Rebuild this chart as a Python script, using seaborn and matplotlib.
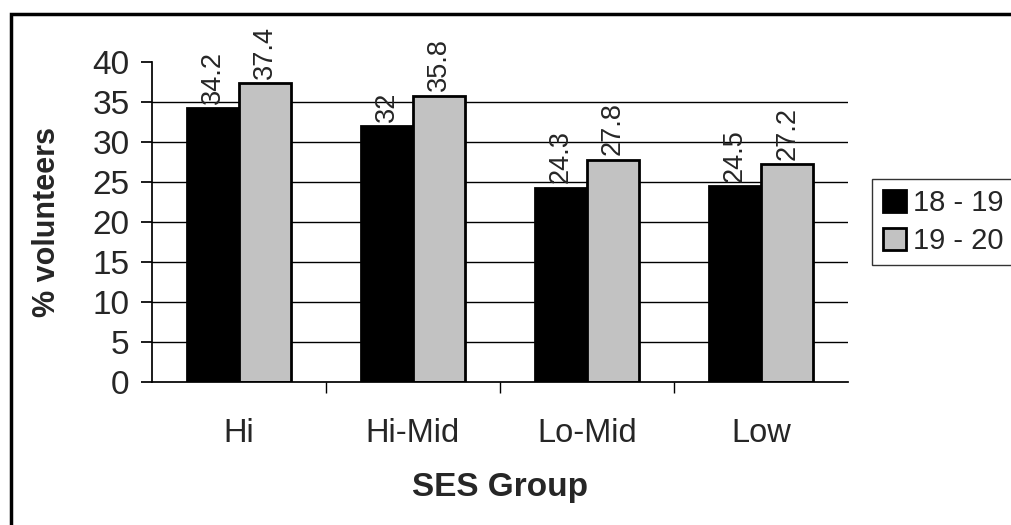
import numpy as np
import pandas as pd
import matplotlib
matplotlib.use("Agg")
import matplotlib.pyplot as plt
import seaborn as sns
from matplotlib.patches import Rectangle

groups = ["Hi", "Hi-Mid", "Lo-Mid", "Low"]
series = ["18 - 19", "19 - 20"]
vals_18_19 = [34.2, 32, 24.3, 24.5]
vals_19_20 = [37.4, 35.8, 27.8, 27.2]
labels_18_19 = ["34.2", "32", "24.3", "24.5"]
labels_19_20 = ["37.4", "35.8", "27.8", "27.2"]
yticks = [0, 5, 10, 15, 20, 25, 30, 35, 40]

df = pd.DataFrame({
    "SES Group": groups * 2,
    "series": [series[0]] * 4 + [series[1]] * 4,
    "pct": vals_18_19 + vals_19_20,
})

sns.set_theme(style="white")
plt.rcParams['font.family'] = ['Liberation Sans', 'DejaVu Sans']

fig = plt.figure(figsize=(10.12, 5.25), dpi=100)
ax = fig.add_axes([0.150, 0.272, 0.688, 0.610])

# gridlines (none at the top value, like the original)
for yv in yticks[1:-1]:
    ax.axhline(yv, color="black", linewidth=1, zorder=0)

sns.barplot(data=df, x="SES Group", y="pct", hue="series", hue_order=series,
            palette=["black", "#c2c2c2"], width=0.6, gap=0, saturation=1,
            edgecolor="black", linewidth=2, ax=ax, legend=True, zorder=2)

for cont, labs in zip(ax.containers, [labels_18_19, labels_19_20]):
    ax.bar_label(cont, labels=labs, rotation=90, padding=3, fontsize=19.5)

ax.set_ylim(0, 40)
ax.set_xlim(-0.5, 3.5)
ax.set_yticks(yticks)
for s in ["top", "right"]:
    ax.spines[s].set_visible(False)
ax.spines["left"].set_color("black")
ax.spines["bottom"].set_color("black")
ax.spines["left"].set_linestyle((0, (6, 1)))
ax.tick_params(axis="y", left=True, length=8, color="black", labelsize=24, pad=8)
ax.set_xticks([0, 1, 2, 3], minor=False)
ax.tick_params(axis="x", bottom=False, labelsize=23.5, pad=20)
ax.set_xticks([0.5, 1.5, 2.5], minor=True)
ax.tick_params(axis="x", which="minor", bottom=True, length=8, color="black")
ax.set_xlabel("SES Group", fontsize=24, fontweight="bold", labelpad=16)
ax.set_ylabel("% volunteers", fontsize=22, fontweight="bold", labelpad=22)

leg = ax.legend(loc="center left", bbox_to_anchor=(1.035, 0.5), frameon=True,
                fontsize=21, handlelength=0.8, handleheight=0.8, handletextpad=0.25,
                borderpad=0.35, fancybox=False, edgecolor="black", labelspacing=0.35,
                borderaxespad=0)
leg.get_frame().set_linewidth(1)

fig.patches.append(Rectangle((11 / 1012, -0.02), 1.0, 1 - 14 / 525 + 0.02,
                             transform=fig.transFigure, fill=False,
                             edgecolor="black", linewidth=2.5))

fig.savefig("out.png", dpi=100)
